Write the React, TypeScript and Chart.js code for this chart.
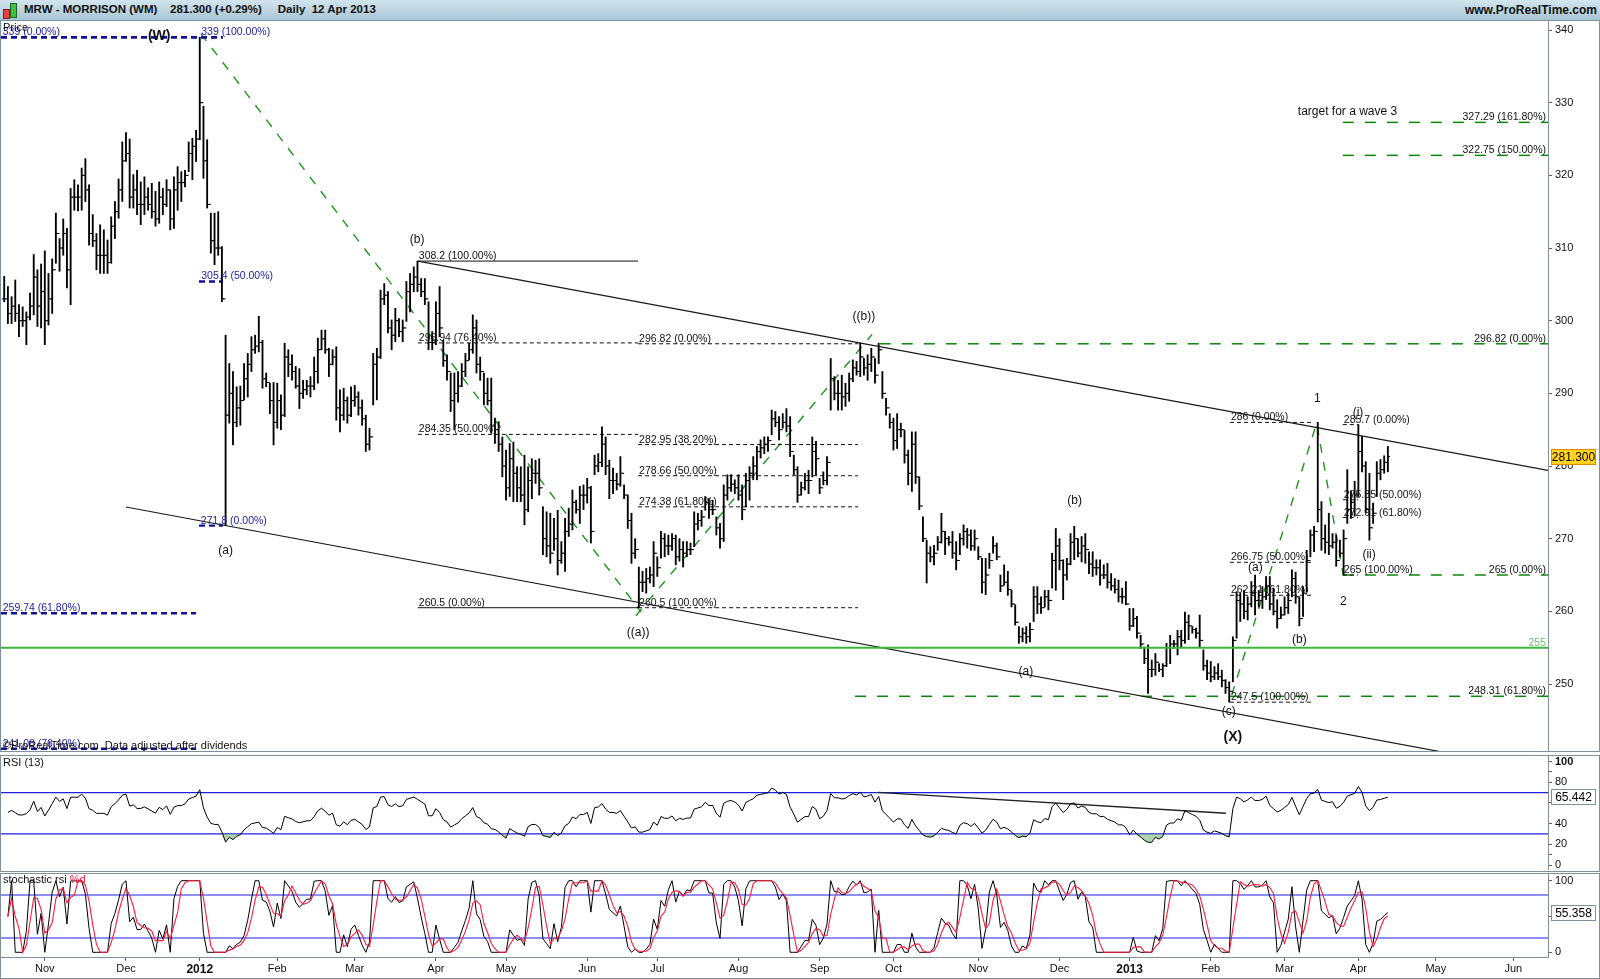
import React, { useEffect, useRef } from 'react';
import { Chart, registerables } from 'chart.js';
Chart.register(...registerables);

const FONT = '"Liberation Sans", Arial, sans-serif';

// ---- daily bars (index 0 = 17 Oct 2011, index 375 = 12 Apr 2013) ----
const highs = [
  306.1,304.7,303.3,305.6,302.2,301.9,301.2,303.8,309.1,307,
  307.8,309.6,306.5,308.5,314.8,311.3,314,312.7,318.2,319.4,
  318.7,321,322.3,318.7,314.6,312,313.2,312.5,311.1,314.3,
  316.4,319.5,324.6,325.9,325,320.1,320.7,319.1,319.8,318.3,
  318.9,317.8,319.1,318.2,319.4,318,319.8,321.2,320.5,320.7,
  324.6,325.1,326.2,339,329.5,324.9,314.8,314.8,315,310.2,
  298,294.1,293,290.9,291,294.1,295.5,297.8,298,300.6,
  297.3,292.8,291.4,291.5,291.4,289.8,296.9,296,295.3,293.7,
  293.4,291.8,291.8,292.3,295,297.6,298.7,298.7,296.2,296,
  296.4,290.5,290.7,289.5,290.9,291.1,290.2,289.1,287,285.2,
  295.5,296.2,304.2,305.1,304,300.1,301.7,300.3,300.1,305.4,
  306.5,307.4,308.2,305.8,305.8,302.6,298.5,302.6,304.7,297.3,
  295.3,292.8,292.8,293,294.1,295.5,296.9,300.8,300.1,295,
  292.8,292.1,292.1,286.6,286.1,284,282.2,283.1,283.3,279.9,
  279.9,281.5,279.9,281,280.8,281,274.4,273.7,273.5,272.8,
  273.9,269.6,272.8,274.2,276.7,275.3,277.2,277.4,278.3,277.2,
  281.5,281.7,285.4,284,280.8,279.7,279,281.3,277.4,276,
  273.5,270,266.1,265.5,265.9,266.1,269.6,267.5,271,270.7,
  270.5,270.7,270.5,270,269.6,269.6,269.4,273.7,273.5,273.9,
  275.8,275.5,275.3,273,272.1,277.4,278.8,278.8,278.1,278.8,
  277.4,279,279.9,281.3,282.7,283.6,284,284,287.7,287.5,
  286.8,287.2,287.9,286.8,281.5,279.9,277.8,279,279.4,284,
  283.4,278.3,279.2,281.3,294.8,292.3,291.8,292.5,291.4,292.8,
  294.6,294.4,296.9,294.8,295.3,296.2,294.8,296.9,293,289.3,
  287.2,286.6,287.2,285.9,284.9,282.2,284.7,284.7,278.5,273,
  269.8,268.9,269.1,270.3,273.5,271,270.3,271,269.6,270.7,
  271.9,271.4,271.2,271.2,268.9,267.3,267.3,268,270.3,269.4,
  265,266.4,265.5,262.9,260.9,257.9,257.7,257.9,258.4,263.4,
  263.4,262,262.9,262.9,268,271.4,270,267.1,267.3,270.7,
  271.7,270,270.3,270.7,268.2,268.2,267.1,267.1,266.4,266.6,
  265.2,264.5,264.3,263.2,264.1,260.4,260.4,259.3,256.7,255.1,
  255.4,253.3,254.2,252.8,252.8,255.6,256.7,256,257.4,257.4,
  259.9,259.5,257.9,257.7,259.5,254.7,253.3,253.1,252.4,252.8,
  251.9,250.6,250.3,256.5,262.7,262.5,262.9,262,264.1,265,
  262.9,263.4,264.8,264.8,263.2,261.6,260.6,262,262.5,265.7,
  265.4,262,263.4,268.4,271.2,271.7,286,275.1,271.9,273.5,
  270.7,270.5,269.8,271.2,279.5,276.5,277.9,285.7,284.1,280.6,
  279,274.9,280.6,280.9,281.4,282.7
];
const lows = [
  302.6,299.6,299.6,299.9,297.8,299.2,296.7,300.1,300.8,299.2,
  299,296.7,299.4,301,307.9,306.8,309,304.5,302.2,315.2,
  315.1,315.2,316.4,310.4,310.2,307,306.5,306.5,306.5,307.9,
  311.3,314.1,316.4,321.9,315.5,315.5,314.6,313.2,314.6,315.2,
  314.1,313,313.4,314.6,315.7,312.5,312.7,315.2,316.4,318.4,
  320.5,319.4,321.9,324.9,319.6,315.5,309.3,307.7,309,302.6,
  271.8,285.9,282.9,285.4,285.6,289.1,289.5,293,295.5,295.7,
  290.7,290.9,287.2,282.9,285.2,285,286.8,292.3,291.8,290.7,
  287.9,289.3,289.8,289.5,290.5,291.4,296,295.5,292.3,293.9,
  286.3,284.7,286.3,285.9,286.8,288.2,287,285.6,282,282.2,
  288.4,289.1,294.8,302.2,298.3,296,297.1,297.8,297.1,299.9,
  301.2,304,304,303.3,302.2,296,296,296.7,297.8,293.7,
  291.8,287.5,285,288.8,290.9,292.3,294.6,295.5,292.8,291.8,
  288.4,288.4,284.5,283.1,282,278.5,275.3,275.8,275.1,275.1,
  275.1,271.9,273.7,275.5,277.6,276,267.8,267.5,266.6,268.4,
  265,266.6,265.5,270.3,271.2,273.5,272.1,274,274.9,269.4,
  278.8,279.2,279.9,278.8,275.5,276.2,276.7,277.2,275.5,271.4,
  266.6,267.3,260.5,262.7,262.5,263.9,263.4,264.8,267.3,267.5,
  267.8,268.4,266.4,266.9,266.1,267.5,267.8,268.9,271.2,271.7,
  273.9,272.8,273.3,270.5,268.7,269.6,275.3,276.5,276.2,275.3,
  272.6,274.4,275.3,278.1,278.1,281.1,281.7,282,284.3,285.4,
  283.6,285.2,284.7,281.3,278.8,275,276,276.7,276.2,278.5,
  278.8,276.2,277.4,277.4,287.7,289.1,287.7,287.7,288.2,288.9,
  291.6,292.5,292.3,292.5,291.8,293,291.4,294.1,289.3,287,
  285.2,282.2,282.4,284,280.4,277.4,276.5,277.6,274,269.6,
  263.9,266.8,266.4,268.4,269.4,267.8,269.1,267.3,265.7,267.8,
  269.1,268.7,268.4,268.4,267.1,262.5,262.3,265.9,268,267.1,
  262.7,263.6,262.2,260.6,258.1,255.6,255.8,255.6,255.8,258.6,
  259.7,259.7,260.6,260.2,263.2,262.9,265.7,261.6,264.3,266.4,
  267.1,267.5,266.8,266.6,265.2,264.8,265,263.6,264.5,263.2,
  262.9,262.5,261.3,261.1,260.9,257.4,257.9,256.3,254.9,252.8,
  248.7,251,251.2,251.7,251,252.4,252.8,254.9,254,255.1,
  255.6,256.1,257,256.3,255.1,251.9,250.6,250.3,250.6,250.6,
  249.6,248.7,247.5,250.3,256.3,258.6,259,258.8,260.6,259.5,
  260.6,260.4,261.6,260.2,259.5,257.7,259,259.5,259.7,262,
  261.1,258,259.3,262.7,267.5,268.2,272.3,268.4,268,267.8,
  268.7,266.2,267.5,265,272.1,272.8,273.1,275.8,279.2,273.5,
  269.8,272.1,275.8,278.1,279,279.2
];
const closes = [
  303,301,302,301,300,300,300.5,302,306,302,
  304,300,303,307,312,310,312,307,317,317,
  317,320,318,312,311,309,309,309,308,313,
  315,318,322,323,317,318,316,316,317,316,
  315,314,317,316,318,314,318,319,319,320,
  323,324,325,330,322,316,311,310,310,303,
  287,290,286,288,289,292,294,296,296.5,297,
  292,291.5,289,286,289,287,295,294,293,291,
  290,290.5,291,291,293,296,297.5,296,294,295,
  288,287,289,287,289,289.5,288,286.5,283,284,
  294,295,303,303.5,299,298,300,298.5,299,304,
  305,306,305,304,303,297,297,301,299,294.5,
  293,289,290,291,293,294.5,296,299,294,293,
  290,289,285.5,285,283,280,277,281,279,277,
  276,274,278,279,279,277,270,269,268,270,
  267,268,271,272,275,274,276,276,277,271,
  280,280.5,283,280,278,278,277.5,279,276,272.5,
  268,268.5,264,264,264.5,265,268,266,270,269,
  269,270,267.5,268.5,268,268.5,268.5,272,272.5,273,
  275,274,274,271.5,270,276,277,277.5,277,276,
  274,278,279,280,282,282.5,283,283.5,286.5,286,
  285,286,285.5,282,279.5,276,277,278,278,282,
  281,277,278,280.5,292,290,290,289.5,290,292,
  293.5,293,295,293.5,294,295,292.5,296,290,288,
  286,283.5,285,285,281.5,279,283,278.5,274.5,270,
  268,267.5,268,269.5,271,270,269.5,268,267,270,
  271,270.5,269,270,267.5,264,265,267,269,267.5,
  263.5,264,263,261,258.5,256.5,257,256.5,257.5,262,
  261,260.5,262,261.5,267,269,267,265,266.5,269.5,
  270,268,269,268.5,266.5,266,266,265,265,264,
  263.5,263,262,262,261,258,259,257,255.5,253.5,
  252,252,253,252,252.5,255,255.5,255.5,256.5,256,
  258.5,258,257.5,257,256,252.5,251.5,251,251.5,251,
  250.5,249.5,249,256,261.5,261,260,261,262.5,261.5,
  261.5,262,263.5,261,260,259,259.5,260.5,261.5,264.5,
  262,259,262.5,267,270.5,271,274,270,269.5,269,
  269.5,267,268,270,274,275,276,282,280,274,
  271.5,273.5,279,279.5,280.5,281.3
];

// ---- time axis (trading-day index of each month start) ----
const monthTickIdx = [11, 33, 53, 74, 95, 117, 136, 158, 177, 199, 221, 241, 264, 286, 305, 327, 347, 367, 388, 409];
const monthTickLabels = ['Nov', 'Dec', '2012', 'Feb', 'Mar', 'Apr', 'May', 'Jun', 'Jul', 'Aug', 'Sep', 'Oct', 'Nov', 'Dec', '2013', 'Feb', 'Mar', 'Apr', 'May', 'Jun'];
const priceTicks = [250, 260, 270, 280, 290, 300, 310, 320, 330, 340];
const rsiTicks = [0, 10, 20, 40, 60, 80, 90, 100];
const rsiLabelled = [0, 20, 40, 80, 100];
const stochTicks = [0, 50, 100];
const stochLabelled = [0, 100];

const X_MIN = -0.87;
const X_MAX = 418.4;
const LAST_PRICE = 281.3;

// ---- annotations (data coordinates: x = bar index, y = price) ----
const blueFib = [
  { y: 339, x1: X_MIN, x2: 59.3, text: '339 (0.00%)', lx: -0.4 },
  { y: 339, x1: X_MIN, x2: 59.3, text: '339 (100.00%)', lx: 53.4 },
  { y: 305.4, x1: 52.8, x2: 59.3, text: '305.4 (50.00%)', lx: 53.4 },
  { y: 271.8, x1: 52.8, x2: 59.3, text: '271.8 (0.00%)', lx: 53.3 },
  { y: 259.74, x1: X_MIN, x2: 52, text: '259.74 (61.80%)', lx: -0.4 },
  { y: 241.08, x1: X_MIN, x2: 52, text: '241.08 (76.40%)', lx: -0.4 },
];
const blackFib = [
  { y: 308.2, x1: 112.1, x2: 171.8, text: '308.2 (100.00%)', solid: true },
  { y: 296.94, x1: 112.1, x2: 171.8, text: '296.94 (76.40%)', solid: false },
  { y: 284.35, x1: 112.1, x2: 171.8, text: '284.35 (50.00%)', solid: false },
  { y: 260.5, x1: 112.1, x2: 171.8, text: '260.5 (0.00%)', solid: true },
  { y: 296.82, x1: 171.8, x2: 231.4, text: '296.82 (0.00%)', solid: false },
  { y: 282.95, x1: 171.8, x2: 231.4, text: '282.95 (38.20%)', solid: false },
  { y: 278.66, x1: 171.8, x2: 231.4, text: '278.66 (50.00%)', solid: false },
  { y: 274.38, x1: 171.8, x2: 231.4, text: '274.38 (61.80%)', solid: false },
  { y: 260.5, x1: 171.8, x2: 231.4, text: '260.5 (100.00%)', solid: false },
  { y: 286, x1: 332.2, x2: 354.7, text: '286 (0.00%)', solid: false },
  { y: 266.75, x1: 332.2, x2: 354.7, text: '266.75 (50.00%)', solid: false },
  { y: 262.21, x1: 332.2, x2: 354.7, text: '262.21 (61.80%)', solid: false },
  { y: 247.5, x1: 332.2, x2: 354.7, text: '247.5 (100.00%)', solid: false },
  { y: 285.7, x1: 362.8, x2: 366.9, text: '285.7 (0.00%)', solid: false },
  { y: 275.35, x1: 362.8, x2: 366.9, text: '275.35 (50.00%)', solid: false },
  { y: 272.91, x1: 362.8, x2: 366.9, text: '272.91 (61.80%)', solid: false },
  { y: 265, x1: 362.8, x2: 366.9, text: '265 (100.00%)', solid: false },
];
const greenLevels = [
  { y: 327.29, x1: 362.8, text: '327.29 (161.80%)' },
  { y: 322.75, x1: 362.8, text: '322.75 (150.00%)' },
  { y: 296.82, x1: 237.3, text: '296.82 (0.00%)' },
  { y: 265, x1: 362.8, text: '265 (0.00%)' },
  { y: 248.31, x1: 230.6, text: '248.31 (61.80%)' },
];
const SUPPORT = 255;
const greenPaths = [
  [{ x: 53.3, y: 339.5 }, { x: 172.6, y: 259.9 }],
  [{ x: 171.2, y: 259.4 }, { x: 235.2, y: 298.1 }],
  [{ x: 332.7, y: 248.5 }, { x: 355.7, y: 285.9 }, { x: 362.9, y: 265.0 }],
];
const channelUpper = [{ x: 112.1, y: 308.2 }, { x: 418.4, y: 279.4 }];
const channelLower = [{ x: 33.0, y: 274.36 }, { x: 418.4, y: 237.93 }];
const waveLabels = [
  { x: 42, y: 339.2, text: '(W)', bold: true },
  { x: 111.9, y: 311.2, text: '(b)' },
  { x: 60, y: 268.4, text: '(a)' },
  { x: 233, y: 300.6, text: '((b))' },
  { x: 171.8, y: 257.0, text: '((a))' },
  { x: 290.1, y: 275.2, text: '(b)' },
  { x: 276.9, y: 251.7, text: '(a)' },
  { x: 333, y: 242.7, text: '(X)', bold: true },
  { x: 331.9, y: 246.15, text: '(c)' },
  { x: 339.1, y: 266.0, text: '(a)' },
  { x: 351, y: 256.1, text: '(b)' },
  { x: 355.9, y: 289.2, text: '1' },
  { x: 362.9, y: 261.3, text: '2' },
  { x: 366.9, y: 287.4, text: '(i)' },
  { x: 369.9, y: 267.8, text: '(ii)' },
];
const targetNote = { x: 350.6, y: 328.76, text: 'target for a wave 3' };
const rsiTrend = [{ x: 236.8, y: 70.2 }, { x: 331.1, y: 50 }];

// ---- indicators computed from the closes ----
function computeRSI(c: number[], n: number) {
  const out: (number | null)[] = new Array(c.length).fill(null);
  let ag = 1.1, al = 0.9;
  for (let i = 1; i < c.length; i++) {
    const d = c[i] - c[i - 1];
    const g = d > 0 ? d : 0;
    const l = d < 0 ? -d : 0;
    ag = (ag * (n - 1) + g) / n;
    al = (al * (n - 1) + l) / n;
    out[i] = al === 0 ? 100 : 100 - 100 / (1 + ag / al);
  }
  return out;
}
function computeStoch(r: (number | null)[], n: number) {
  const k: (number | null)[] = new Array(r.length).fill(null);
  for (let i = 0; i < r.length; i++) {
    if (r[i] == null) continue;
    let mn = Infinity, mx = -Infinity;
    for (let j = Math.max(0, i - n + 1); j <= i; j++) {
      const v = r[j];
      if (v == null) continue;
      mn = Math.min(mn, v); mx = Math.max(mx, v);
    }
    k[i] = mx - mn < 1e-9 ? 50 : ((r[i] as number) - mn) / (mx - mn) * 100;
  }
  const d: (number | null)[] = new Array(r.length).fill(null);
  for (let i = 0; i < k.length; i++) {
    const vals: number[] = [];
    for (let j = Math.max(0, i - 2); j <= i; j++) if (k[j] != null) vals.push(k[j] as number);
    if (vals.length) d[i] = vals.reduce((a, b) => a + b, 0) / vals.length;
  }
  return { k, d };
}

const GRAY = '#7f909c';
const BLUE_TXT = '#2323a8';

function seg(pts: { x: number; y: number }[], color: string, width: number, dash: number[], order = 5) {
  return {
    type: 'line', data: pts, borderColor: color, borderWidth: width, borderDash: dash,
    pointRadius: 0, pointHoverRadius: 0, fill: false, tension: 0, order,
  };
}

function txt(ctx: CanvasRenderingContext2D, s: string, x: number, y: number, font: string, color: string, align: CanvasTextAlign = 'left', base: CanvasTextBaseline = 'alphabetic') {
  ctx.font = font; ctx.fillStyle = color; ctx.textAlign = align; ctx.textBaseline = base;
  ctx.fillText(s, x, y);
}

function valueBox(ctx: CanvasRenderingContext2D, label: string, y: number, fill: string, stroke: string) {
  ctx.save();
  ctx.fillStyle = fill; ctx.strokeStyle = stroke; ctx.lineWidth = 1;
  ctx.fillRect(1551.5, Math.round(y) - 7.5, 44, 15);
  ctx.strokeRect(1551.5, Math.round(y) - 7.5, 44, 15);
  txt(ctx, label, 1573.5, Math.round(y) + 0.5, `12px ${FONT}`, '#000', 'center', 'middle');
  ctx.restore();
}

function yAxis(ticks: number[], labelled: number[], min: number, max: number, boldVal: number | null) {
  return {
    type: 'linear', position: 'right', min, max,
    afterBuildTicks: (s: any) => { s.ticks = ticks.map((v) => ({ value: v })); },
    afterFit: (s: any) => { s.width = 52; s.paddingTop = 0; s.paddingBottom = 0; },
    ticks: {
      autoSkip: false, padding: 3, color: '#111',
      callback: (v: number) => (labelled.includes(v) ? String(v) : ''),
      font: (c: any) => ({ family: FONT, size: 11, weight: c.tick && c.tick.value === boldVal ? 'bold' : 'normal' }),
    },
    grid: { drawOnChartArea: false, drawTicks: true, tickLength: 4, color: '#55606a' },
    border: { display: true, color: GRAY, width: 1 },
  };
}

const hiddenX = { type: 'linear', min: X_MIN, max: X_MAX, display: false, offset: false, grid: { offset: false } };
const baseOptions = {
  responsive: false, animation: false, devicePixelRatio: 1, events: [],
  layout: { autoPadding: false, padding: { left: 1, right: 0, top: 0, bottom: 0 } },
  plugins: { legend: { display: false }, tooltip: { enabled: false } },
};

export default function App() {
  const priceRef = useRef<HTMLCanvasElement>(null);
  const rsiRef = useRef<HTMLCanvasElement>(null);
  const stochRef = useRef<HTMLCanvasElement>(null);

  useEffect(() => {
    const charts: Chart[] = [];
    const opens = closes.map((c, i) => (i === 0 ? c : closes[i - 1]));
    const rsi = computeRSI(closes, 13);
    const st = computeStoch(rsi, 13);
    const lastIdx = closes.length - 1;

    // ---------------- price panel ----------------
    const priceDatasets: any[] = [];
    priceDatasets.push(seg(channelUpper, '#1a1a1a', 1.2, [], 6));
    priceDatasets.push(seg(channelLower, '#1a1a1a', 1.2, [], 6));
    blueFib.forEach((f) => priceDatasets.push(seg([{ x: f.x1, y: f.y }, { x: f.x2, y: f.y }], '#10109a', 2.4, [6, 4], 6)));
    blackFib.forEach((f) => priceDatasets.push(seg([{ x: f.x1, y: f.y }, { x: f.x2, y: f.y }], '#111', 1, f.solid ? [] : [4, 3], 6)));
    greenLevels.forEach((g) => priceDatasets.push(seg([{ x: g.x1, y: g.y }, { x: X_MAX, y: g.y }], '#0a8a0a', 1.5, [11, 11], 6)));
    greenPaths.forEach((p) => priceDatasets.push(seg(p, '#1f951f', 1.4, [9, 9], 6)));
    priceDatasets.push({
      type: 'bar', data: highs.map((h, i) => ({ x: i, y: [lows[i], h] })),
      backgroundColor: '#000', borderWidth: 0, barThickness: 1.2, order: 2,
    });
    priceDatasets.push({
      type: 'line', showLine: false, data: closes.map((c, i) => ({ x: i + 0.3, y: c })),
      pointStyle: 'line', pointRadius: 1.1, pointHoverRadius: 1.1, pointBorderColor: '#000', pointBorderWidth: 1, order: 1,
    });
    priceDatasets.push({
      type: 'line', showLine: false, data: opens.map((o, i) => ({ x: i - 0.3, y: o })),
      pointStyle: 'line', pointRadius: 1.1, pointHoverRadius: 1.1, pointBorderColor: '#000', pointBorderWidth: 1, order: 1,
    });
    priceDatasets.push(seg([{ x: X_MIN, y: SUPPORT }, { x: X_MAX, y: SUPPORT }], '#3cb43c', 2, [], 0));

    const pricePlugin = {
      id: 'priceDeco',
      afterDraw(chart: any) {
        const { ctx, scales } = chart;
        const xs = scales.x, ys = scales.y;
        const f11 = `10.5px ${FONT}`;
        ctx.save();
        blueFib.forEach((f) => txt(ctx, f.text, xs.getPixelForValue(f.lx), ys.getPixelForValue(f.y) - 2, f11, BLUE_TXT));
        blackFib.forEach((f) => txt(ctx, f.text, xs.getPixelForValue(f.x1) + 1, ys.getPixelForValue(f.y) - 2, f11, '#111'));
        greenLevels.forEach((g) => txt(ctx, g.text, xs.getPixelForValue(X_MAX) - 2, ys.getPixelForValue(g.y) - 2, f11, '#111', 'right'));
        txt(ctx, String(SUPPORT), xs.getPixelForValue(X_MAX) - 2, ys.getPixelForValue(SUPPORT) - 2, f11, '#66cc66', 'right');
        waveLabels.forEach((w) => txt(ctx, w.text, xs.getPixelForValue(w.x), ys.getPixelForValue(w.y),
          w.bold ? `bold 14px ${FONT}` : `12px ${FONT}`, '#111', 'center', 'middle'));
        txt(ctx, targetNote.text, xs.getPixelForValue(targetNote.x), ys.getPixelForValue(targetNote.y), `12px ${FONT}`, '#111', 'left', 'middle');
        txt(ctx, 'Price', 3, 7, `11px ${FONT}`, '#111', 'left', 'middle');
        txt(ctx, '\u00a9ProRealTime.com  Data adjusted after dividends', 3, 728, `11px ${FONT}`, '#111', 'left', 'alphabetic');
        valueBox(ctx, LAST_PRICE.toFixed(3), ys.getPixelForValue(LAST_PRICE), '#ffd21f', '#e08a00');
        ctx.restore();
      },
    };

    charts.push(new Chart(priceRef.current as HTMLCanvasElement, {
      type: 'bar',
      data: { datasets: priceDatasets },
      options: {
        ...baseOptions,
        scales: {
          x: hiddenX,
          y: yAxis(priceTicks, priceTicks, 240.78, 341.24, null),
        },
      } as any,
      plugins: [pricePlugin],
    } as any));

    // ---------------- RSI panel ----------------
    const rsiPts = rsi.map((v, i) => (v == null ? null : { x: i, y: v })).filter(Boolean);
    const rsiPlugin = {
      id: 'rsiDeco',
      afterDraw(chart: any) {
        const { ctx, scales } = chart;
        ctx.save();
        txt(ctx, 'RSI (13)', 3, 7, `11px ${FONT}`, '#111', 'left', 'middle');
        const last = rsi[lastIdx] as number;
        valueBox(ctx, last.toFixed(3), scales.y.getPixelForValue(last), '#fff', GRAY);
        ctx.restore();
      },
    };
    charts.push(new Chart(rsiRef.current as HTMLCanvasElement, {
      type: 'line',
      data: {
        datasets: [
          seg([{ x: X_MIN, y: 70 }, { x: X_MAX, y: 70 }], '#2020e0', 1.2, [], 3),
          seg([{ x: X_MIN, y: 30 }, { x: X_MAX, y: 30 }], '#2020e0', 1.2, [], 3),
          seg(rsiTrend, '#222', 1.3, [], 2),
          {
            data: rsiPts, borderColor: '#000', borderWidth: 1, pointRadius: 0, pointHoverRadius: 0, tension: 0, order: 1,
            fill: { target: { value: 30 }, above: 'rgba(0,0,0,0)', below: 'rgba(120,185,120,0.6)' },
          },
        ],
      },
      options: {
        ...baseOptions,
        scales: { x: hiddenX, y: yAxis(rsiTicks, rsiLabelled, -4.83, 105.3, 100) },
      } as any,
      plugins: [rsiPlugin],
    } as any));

    // ---------------- Stochastic RSI panel ----------------
    const kPts = st.k.map((v, i) => (v == null ? null : { x: i, y: v })).filter(Boolean);
    const dPts = st.d.map((v, i) => (v == null ? null : { x: i, y: v })).filter(Boolean);
    const stPlugin = {
      id: 'stDeco',
      afterDraw(chart: any) {
        const { ctx, scales } = chart;
        ctx.save();
        txt(ctx, 'stochastic rsi', 3, 7, `11px ${FONT}`, '#111', 'left', 'middle');
        ctx.font = `11px ${FONT}`;
        const w = ctx.measureText('stochastic rsi ').width;
        txt(ctx, '%d', 3 + w, 7, `11px ${FONT}`, '#ff1a3c', 'left', 'middle');
        const last = st.k[lastIdx] as number;
        valueBox(ctx, last.toFixed(3), scales.y.getPixelForValue(last), '#fff', GRAY);
        ctx.restore();
      },
    };
    charts.push(new Chart(stochRef.current as HTMLCanvasElement, {
      type: 'line',
      data: {
        datasets: [
          seg([{ x: X_MIN, y: 80 }, { x: X_MAX, y: 80 }], '#2020e0', 1.2, [], 4),
          seg([{ x: X_MIN, y: 20 }, { x: X_MAX, y: 20 }], '#2020e0', 1.2, [], 4),
          { data: kPts, borderColor: '#000', borderWidth: 1, pointRadius: 0, pointHoverRadius: 0, tension: 0, order: 2, fill: false },
          { data: dPts, borderColor: '#ff1a3c', borderWidth: 1.1, pointRadius: 0, pointHoverRadius: 0, tension: 0, order: 1, fill: false },
        ],
      },
      options: {
        ...baseOptions,
        scales: {
          x: {
            type: 'linear', position: 'bottom', min: X_MIN, max: X_MAX, offset: false,
            afterBuildTicks: (s: any) => { s.ticks = monthTickIdx.map((v) => ({ value: v })); },
            afterFit: (s: any) => { s.height = 22; s.paddingLeft = 0; s.paddingRight = 0; },
            ticks: {
              autoSkip: false, maxRotation: 0, padding: 1, color: '#111',
              callback: (_v: number, i: number) => monthTickLabels[i],
              font: (c: any) => {
                const lab = monthTickLabels[c.index];
                const yr = lab && lab.length === 4;
                return { family: FONT, size: yr ? 12 : 11, weight: yr ? 'bold' : 'normal' };
              },
            },
            grid: { drawOnChartArea: false, drawTicks: true, tickLength: 4, color: '#55606a', offset: false },
            border: { display: true, color: GRAY, width: 1 },
          },
          y: yAxis(stochTicks, stochLabelled, -6.56, 110.75, null),
        },
      } as any,
      plugins: [stPlugin],
    } as any));

    return () => charts.forEach((c) => c.destroy());
  }, []);

  const abs = (o: any) => ({ position: 'absolute', ...o });
  return (
    <div style={{ position: 'fixed', left: 0, top: 0, width: 1600, height: 979, background: '#fff', overflow: 'hidden', fontFamily: FONT }}>
      <div style={abs({ left: 0, top: 0, width: 1600, height: 20, background: 'linear-gradient(#d2e5ee, #a9c5d3)', borderBottom: `1px solid ${GRAY}` })}>
        <div style={abs({ left: 3, top: 9, width: 5, height: 8, background: '#e84040', border: '1px solid #802020' })} />
        <div style={abs({ left: 10, top: 3, width: 5, height: 13, background: '#40c040', border: '1px solid #206020' })} />
        <div style={abs({ left: 24, top: 3, fontSize: 11.5, fontWeight: 'bold', color: '#111', whiteSpace: 'pre' })}>
          {'MRW - MORRISON (WM)    281.300 (+0.29%)     Daily  12 Apr 2013'}
        </div>
        <div style={abs({ right: 3, top: 3, fontSize: 12, fontWeight: 'bold', color: '#111' })}>www.ProRealTime.com</div>
      </div>
      <canvas ref={priceRef} width={1600} height={730} style={abs({ left: 0, top: 21, width: 1600, height: 730 })} />
      <canvas ref={rsiRef} width={1600} height={114} style={abs({ left: 0, top: 756, width: 1600, height: 114 })} />
      <canvas ref={stochRef} width={1600} height={106} style={abs({ left: 0, top: 873, width: 1600, height: 106 })} />
      <div style={abs({ left: 0, top: 21, width: 1600, height: 731, boxSizing: 'border-box', borderLeft: `1px solid ${GRAY}`, borderRight: `1px solid ${GRAY}`, borderBottom: `1px solid ${GRAY}`, pointerEvents: 'none' })} />
      <div style={abs({ left: 0, top: 755, width: 1600, height: 117, boxSizing: 'border-box', border: `1px solid ${GRAY}`, pointerEvents: 'none' })} />
      <div style={abs({ left: 0, top: 873, width: 1600, height: 106, boxSizing: 'border-box', border: `1px solid ${GRAY}`, pointerEvents: 'none' })} />
    </div>
  );
}
